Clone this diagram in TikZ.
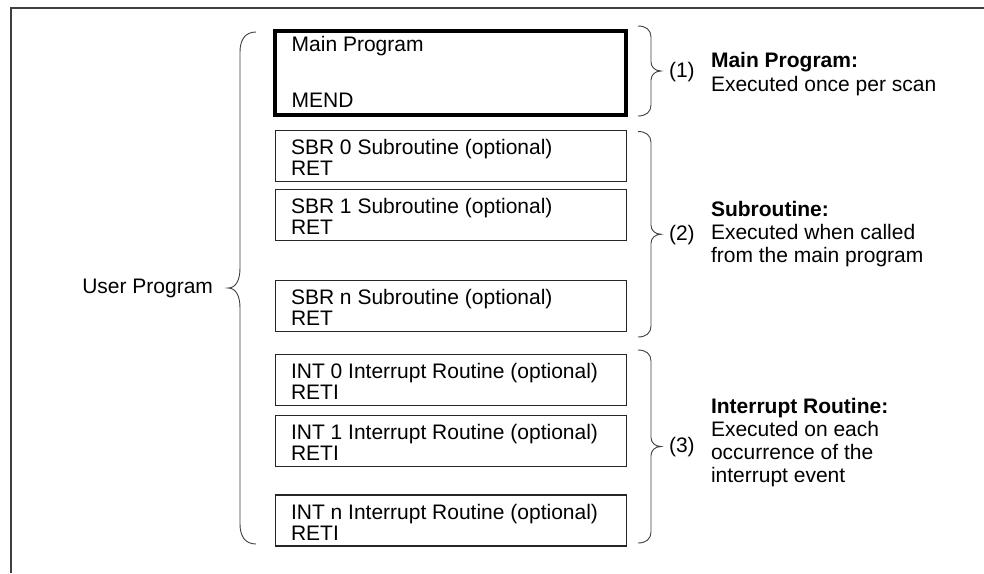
\documentclass[tikz,border=0pt]{standalone}
\usepackage{fontspec}
\setmainfont{Liberation Sans}
\newcommand\rightbrace[2]{%
  \draw[bracestyle] (638,#1) .. controls (646,#1) and (651,{#1+4}) .. (651,{#1+11})
    -- (651,{(#1+#2)/2-9})
    .. controls (651,{(#1+#2)/2-4}) and (655,{(#1+#2)/2}) .. (661,{(#1+#2)/2})
    .. controls (655,{(#1+#2)/2}) and (651,{(#1+#2)/2+4}) .. (651,{(#1+#2)/2+9})
    -- (651,{#2-11})
    .. controls (651,{#2-4}) and (646,#2) .. (638,#2);}
\begin{document}
\begin{tikzpicture}[x=1pt,y=-1pt,
  every node/.style={inner sep=0pt, outer sep=0pt, font=\fontsize{21}{21}\selectfont},
  routine/.style={draw=black!85, line width=1.1pt, minimum width=351pt, minimum height=51pt, anchor=north west},
  mainbox/.style={draw=black, line width=4pt, minimum width=351pt, minimum height=83.7pt, anchor=north west},
  bracestyle/.style={draw=black!75, line width=0.9pt},
  framestyle/.style={draw=black!75, line width=1.8pt},
  txt/.style={anchor=base west},
  numlabel/.style={anchor=west}]
\useasboundingbox (0,0) rectangle (984,573);
\fill[white] (0,0) rectangle (984,573);
% outer frame (left and top edges)
\draw[framestyle] (11,573) -- (11,8) -- (984,8);

% program blocks
\node[mainbox] (main) at (275.3,31.3) {};
\node[routine] (s0) at (275.5,130.5) {};
\node[routine] (s1) at (275.5,189.8) {};
\node[routine] (sn) at (275.5,280.8) {};
\node[routine] (i0) at (275.5,354.2) {};
\node[routine] (i1) at (275.5,415.5) {};
\node[routine] (in) at (275.5,495) {};

\node[txt] (mainA) at ([xshift=16.4pt,yshift=-20.6pt]main.north west) {Main Program};
\node[txt] (mainB) at ([xshift=16.4pt,yshift=-76pt]main.north west) {MEND};
\foreach \b/\t/\e in {s0/SBR 0 Subroutine (optional)/RET,
                      s1/SBR 1 Subroutine (optional)/RET,
                      sn/SBR n Subroutine (optional)/RET,
                      i0/INT 0 Interrupt Routine (optional)/RETI,
                      i1/INT 1 Interrupt Routine (optional)/RETI,
                      in/INT n Interrupt Routine (optional)/RETI}{
  \node[txt] (\b-a) at ([xshift=15.5pt,yshift=-24pt]\b.north west) {\t};
  \node[txt] (\b-b) at ([xshift=15.5pt,yshift=-45pt]\b.north west) {\e};
}

% left brace and label
\draw[bracestyle] (256,32) .. controls (245,32) and (240,40) .. (240,52)
  -- (240,268)
  .. controls (240,280) and (236,288) .. (228,288)
  .. controls (236,288) and (240,296) .. (240,308)
  -- (240,524)
  .. controls (240,536) and (245,544) .. (256,544);
\node[anchor=base east] (user) at (213,293) {User Program};

% right braces
\rightbrace{26}{116}
\rightbrace{131.5}{337}
\rightbrace{350}{543}

\node[numlabel] (n1) at (669,72) {(1)};
\node[numlabel] (n2) at (669,235) {(2)};
\node[numlabel] (n3) at (669,447) {(3)};

% descriptions
\node[txt] (d1a) at (711,67.7) {\bfseries Main Program:};
\node[txt] (d1b) at (711,91) {Executed once per scan};

\node[txt] (d2a) at (711,216.7) {\bfseries Subroutine:};
\node[txt] (d2b) at (711,239.3) {Executed when called};
\node[txt] (d2c) at (711,262.7) {from the main program};

\node[txt] (d3a) at (711,413.3) {\bfseries Interrupt Routine:};
\node[txt] (d3b) at (711,436) {Executed on each};
\node[txt] (d3c) at (711,459.3) {occurrence of the};
\node[txt] (d3d) at (711,482) {interrupt event};
\end{tikzpicture}
\end{document}
